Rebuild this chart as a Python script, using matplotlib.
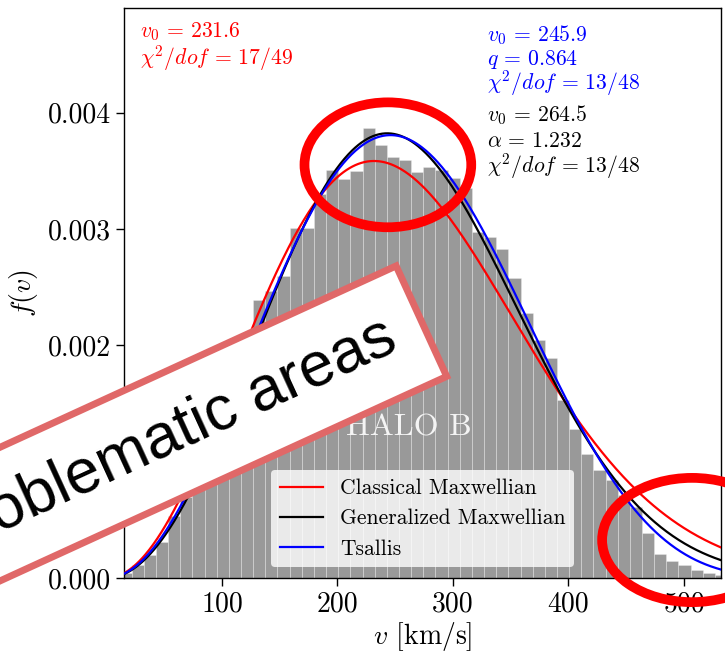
import math
import numpy as np
import matplotlib
matplotlib.use("Agg")
import matplotlib.pyplot as plt
from matplotlib.patches import Ellipse

plt.rcParams['font.family'] = 'serif'
plt.rcParams['font.serif'] = ['cmr10']
plt.rcParams['mathtext.fontset'] = 'cm'
plt.rcParams['axes.unicode_minus'] = False

# ---------------- data ----------------
bin_start = 11.3       # km/s, left edge of first bin
bin_width = 10.52      # km/s
hist_heights = [
    0.045e-3, 0.112e-3, 0.198e-3, 0.313e-3, 0.53e-3, 0.70e-3, 0.90e-3, 1.10e-3,
    1.37e-3, 1.62e-3, 1.92e-3, 2.39e-3, 2.47e-3, 2.60e-3, 3.01e-3, 3.01e-3,
    3.30e-3, 3.51e-3, 3.43e-3, 3.50e-3, 3.87e-3, 3.72e-3, 3.62e-3, 3.59e-3,
    3.49e-3, 3.53e-3, 3.51e-3, 3.44e-3, 3.35e-3, 2.97e-3, 2.93e-3, 2.83e-3,
    2.58e-3, 2.28e-3, 2.05e-3, 1.89e-3, 1.53e-3, 1.28e-3, 1.07e-3, 0.93e-3,
    0.84e-3, 0.71e-3, 0.61e-3, 0.385e-3, 0.21e-3, 0.145e-3, 0.11e-3, 0.065e-3,
    0.045e-3, 0.03e-3,
]

# fit parameters shown on the chart
mb_v0 = 231.6
ts_v0, ts_q = 245.9, 0.864
gm_v0, gm_alpha = 264.5, 1.232

series_labels = ['Classical Maxwellian', 'Generalized Maxwellian', 'Tsallis']
series_colors = ['red', 'black', 'blue']

x_limits = (15.6, 531.6)
y_limits = (0.0, 0.0049)
x_ticks = [100, 200, 300, 400, 500]
x_tick_labels = ['100', '200', '300', '400', '500']
y_ticks = [0.000, 0.001, 0.002, 0.003, 0.004]
y_tick_labels = ['0.000', '0.001', '0.002', '0.003', '0.004']

# ---------------- model curves ----------------
v = np.linspace(x_limits[0], x_limits[1], 600)

def maxwellian(v, v0):
    return 4.0 / (math.sqrt(math.pi) * v0**3) * v**2 * np.exp(-(v / v0)**2)

def gen_maxwellian(v, v0, a):
    norm = v0**3 * math.gamma(3.0 / (2.0 * a)) / (2.0 * a)
    return v**2 * np.exp(-(v / v0)**(2.0 * a)) / norm

def tsallis_unnorm(v, v0, q):
    base = np.clip(1.0 - (1.0 - q) * v**2 / v0**2, 0.0, None)
    return v**2 * base**(q / (1.0 - q))

def tsallis(v, v0, q):
    vmax = v0 / math.sqrt(1.0 - q)
    vv = np.linspace(0.0, vmax, 20001)
    norm = np.trapezoid(tsallis_unnorm(vv, v0, q), vv)
    return tsallis_unnorm(v, v0, q) / norm

curves = [maxwellian(v, mb_v0), gen_maxwellian(v, gm_v0, gm_alpha), tsallis(v, ts_v0, ts_q)]

# ---------------- figure ----------------
fig = plt.figure(figsize=(7.25, 6.54), dpi=100)
ax = fig.add_axes([0.1717, 0.1162, 0.8221, 0.8716])

left_edges = bin_start + bin_width * np.arange(len(hist_heights))
ax.bar(left_edges, hist_heights, width=bin_width, align='edge',
       color='#999999', edgecolor=(1, 1, 1, 0.3), linewidth=0.6, zorder=1)

lines = []
for y, c, lab in zip(curves, series_colors, series_labels):
    ln, = ax.plot(v, y, color=c, lw=1.6, label=lab, zorder=3)
    lines.append(ln)

ax.set_xlim(*x_limits)
ax.set_ylim(*y_limits)
ax.set_xticks(x_ticks)
ax.set_xticklabels(x_tick_labels)
ax.set_yticks(y_ticks)
ax.set_yticklabels(y_tick_labels)
ax.tick_params(direction='out', length=6, width=1, labelsize=20, top=False, right=False)
for sp in ax.spines.values():
    sp.set_linewidth(1.0)

ax.set_xlabel(r'$v$ [km/s]', fontsize=20, labelpad=2)
ax.set_ylabel(r'$f(v)$', fontsize=20, labelpad=6)

# parameter annotations
fs = 15.6
def note(x, y, s, c):
    ax.text(x, y, s, color=c, fontsize=fs, transform=ax.transAxes, va='center')

note(0.026, 0.958, r'$v_0 \,=\, 231.6$', 'red')
note(0.026, 0.912, r'$\chi^2/dof \,=\, 17/49$', 'red')

note(0.608, 0.9526, r'$v_0 \,=\, 245.9$', 'blue')
note(0.608, 0.9088, r'$q \,=\, 0.864$', 'blue')
note(0.608, 0.8684, r'$\chi^2/dof \,=\, 13/48$', 'blue')

note(0.608, 0.8123, r'$v_0 \,=\, 264.5$', 'black')
note(0.608, 0.7667, r'$\alpha \,=\, 1.232$', 'black')
note(0.608, 0.7228, r'$\chi^2/dof \,=\, 13/48$', 'black')

ax.text(0.477, 0.263, 'HALO B', color='#f4f4f4', fontsize=23, ha='center', va='center',
        transform=ax.transAxes, zorder=4)

leg = ax.legend(handles=lines, loc='lower center', fontsize=15.5, framealpha=0.8,
                facecolor='white', edgecolor='none', fancybox=True)
leg.set_zorder(5)

# ---------------- overlay annotations ----------------
fig.patches.append(Ellipse((0.535, 0.748), 0.230, 0.191, transform=fig.transFigure,
                           fill=False, edgecolor='#ff0000', linewidth=7, zorder=10))
fig.patches.append(Ellipse((0.9545, 0.1743), 0.248, 0.19, transform=fig.transFigure,
                           fill=False, edgecolor='#ff0000', linewidth=7, zorder=10))

fig.text(0.2262, 0.3287, 'Problematic areas', family='Liberation Sans', fontsize=45,
         rotation=24.6, rotation_mode='anchor', ha='center', va='center', color='black',
         bbox=dict(boxstyle='square,pad=0.5', facecolor='white', edgecolor='#e06868', linewidth=5),
         zorder=11)

fig.savefig('out.png', dpi=100)
